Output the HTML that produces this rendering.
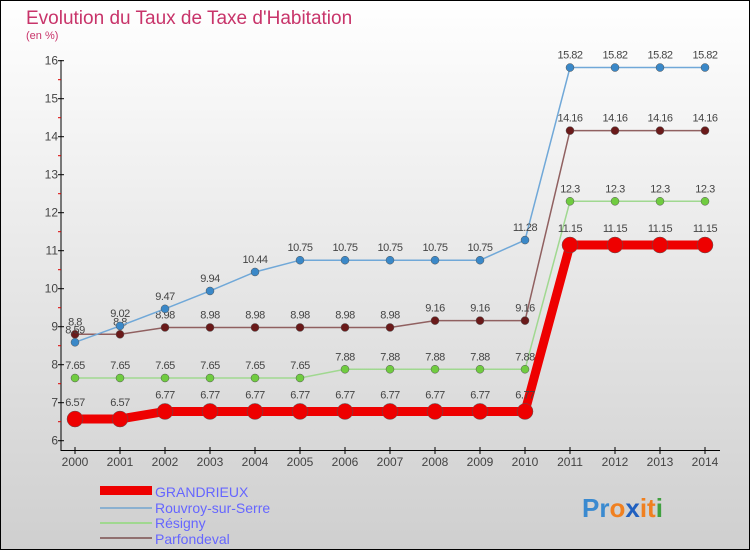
<!DOCTYPE html>
<html><head><meta charset="utf-8"><style>
body{margin:0;}
#c{width:750px;height:550px;position:relative;font-family:"Liberation Sans",sans-serif;}
</style></head><body>
<div id="c">
<svg id="s" width="750" height="550" xmlns="http://www.w3.org/2000/svg">
<defs><linearGradient id="bg" x1="0" y1="0" x2="0" y2="1"><stop offset="0" stop-color="#ffffff"/><stop offset="1" stop-color="#cfcfcf"/></linearGradient></defs>
<rect x="0.5" y="0.5" width="749" height="549" fill="url(#bg)" stroke="#000" stroke-width="1"/>
<text x="26" y="24" font-size="19" fill="#c8346a">Evolution du Taux de Taxe d'Habitation</text>
<text x="26" y="39" font-size="11" fill="#c8346a">(en %)</text>
<g id="axes"></g><g id="series"></g>
<g>
<rect x="100" y="486" width="52" height="9" fill="#e00"/>
<text x="155" y="497" font-size="14" fill="#6666ff">GRANDRIEUX</text>
<rect x="100" y="507" width="52" height="2" fill="#8ab0d0"/>
<text x="155" y="513" font-size="14" fill="#6666ff">Rouvroy-sur-Serre</text>
<rect x="100" y="522" width="52" height="2" fill="#a0d890"/>
<text x="155" y="528" font-size="14" fill="#6666ff">Résigny</text>
<rect x="100" y="537" width="52" height="2" fill="#907070"/>
<text x="155" y="544" font-size="14" fill="#6666ff">Parfondeval</text>
</g>
<text x="582" y="517" font-size="26" font-weight="bold"><tspan fill="#3a8ad0">Pr</tspan><tspan fill="#f08020">o</tspan><tspan fill="#2060c0">x</tspan><tspan fill="#f08020">it</tspan><tspan fill="#40a040">i</tspan></text>
</svg>
</div>
<script>
const years=[2000,2001,2002,2003,2004,2005,2006,2007,2008,2009,2010,2011,2012,2013,2014];
const yTicks=[6,7,8,9,10,11,12,13,14,15,16];
const grandrieux=[6.57,6.57,6.77,6.77,6.77,6.77,6.77,6.77,6.77,6.77,6.77,11.15,11.15,11.15,11.15];
const rouvroy=[8.59,9.02,9.47,9.94,10.44,10.75,10.75,10.75,10.75,10.75,11.28,15.82,15.82,15.82,15.82];
const resigny=[7.65,7.65,7.65,7.65,7.65,7.65,7.88,7.88,7.88,7.88,7.88,12.3,12.3,12.3,12.3];
const parfondeval=[8.8,8.8,8.98,8.98,8.98,8.98,8.98,8.98,9.16,9.16,9.16,14.16,14.16,14.16,14.16];
const NS="http://www.w3.org/2000/svg";
const xS=i=>75+i*45;
const yS=v=>440.7-(v-6)*38;
function mk(t,a,p){const e=document.createElementNS(NS,t);for(const k in a)e.setAttribute(k,a[k]);p.appendChild(e);return e;}
const ax=document.getElementById('axes');
let l=mk('line',{x1:61,y1:60,x2:61,y2:451,stroke:'#000'},ax);


l=mk('line',{x1:61,y1:450.5,x2:720,y2:450.5,stroke:'#000'},ax);


yTicks.forEach(v=>{
 mk('line',{x1:58,y1:yS(v),x2:64,y2:yS(v),stroke:'#000'},ax);
 if(v<16)mk('line',{x1:58,y1:yS(v+0.5),x2:61,y2:yS(v+0.5),stroke:'#d00'},ax);
 const t=mk('text',{x:58,y:yS(v)+4,'font-size':12,fill:'#444','text-anchor':'end'},ax);
 t.textContent=v;
 
 
});
years.forEach((y,i)=>{
 mk('line',{x1:xS(i),y1:447,x2:xS(i),y2:454,stroke:'#000'},ax);
 const t=mk('text',{x:xS(i),y:466,'font-size':12,fill:'#444','text-anchor':'middle'},ax);
 t.textContent=y;
 
 
});
const sg=document.getElementById('series');
function draw(data,name,color,dot,w,r){
 const g=mk('g',{},sg);
 
 
 const pl=mk('polyline',{points:data.map((v,i)=>xS(i)+','+yS(v)).join(' '),fill:'none',stroke:color,'stroke-width':w},g);
 
 
 data.forEach((v,i)=>{
  const c=mk('circle',{cx:xS(i),cy:yS(v),r:r,fill:dot,stroke:'#555','stroke-width':0.5},g);
  
  
  const t=mk('text',{x:xS(i),y:yS(v)-(r+5),'font-size':11,fill:'#444','text-anchor':'middle','letter-spacing':'-0.5'},g);
  t.textContent=v;
  
  
 });
}
draw(resigny,'resigny','#a0d890','#70cc40',1.5,4);
draw(parfondeval,'parfondeval','#906060','#6a1a1a',1.5,4);
draw(rouvroy,'rouvroy','#70a8d8','#3a88c8',1.5,4);
draw(grandrieux,'grandrieux','#ee0000','#ee0000',9,8);
</script>
</body></html>
